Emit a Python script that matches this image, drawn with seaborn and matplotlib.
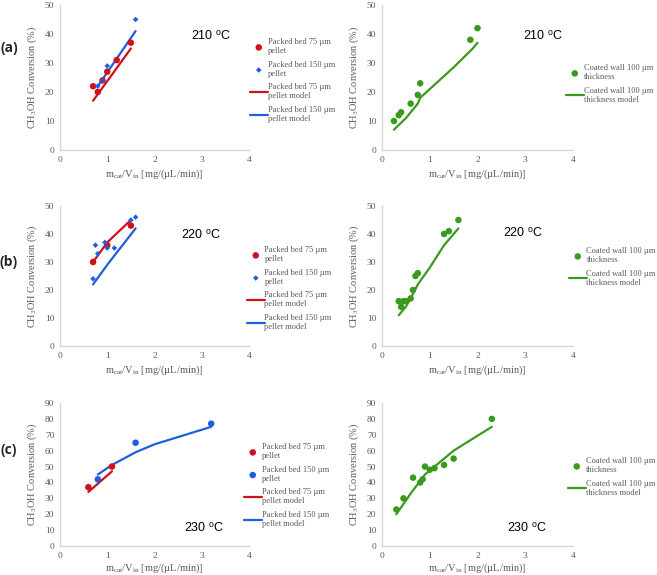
import numpy as np
import pandas as pd
import matplotlib
matplotlib.use("Agg")
import matplotlib.pyplot as plt
import seaborn as sns

sns.set_theme(style="white")
plt.rcParams['font.family'] = ['Liberation Serif', 'DejaVu Serif']
plt.rcParams['mathtext.fontset'] = 'custom'
plt.rcParams['mathtext.rm'] = 'Liberation Serif'
plt.rcParams['mathtext.it'] = 'Liberation Serif'

RED = '#d0101c'
BLUE = '#1f5fdc'
GREEN = '#3a9a1e'
GREY_TXT = '#595959'
SPINE = '#d0d8dc'

# ---- data (a) 210 C ----
a_p75_x = [0.7, 0.8, 0.9, 1.0, 1.2, 1.5]
a_p75_y = [22, 20, 24, 27, 31, 37]
a_p150_x = [0.8, 0.9, 1.0, 1.6]
a_p150_y = [22, 24, 29, 45]
a_m75_x = [0.7, 1.5]
a_m75_y = [17, 35]
a_m150_x = [0.8, 1.6]
a_m150_y = [22, 41]
a_cw_x = [0.25, 0.35, 0.4, 0.6, 0.75, 0.8, 1.85, 2.0]
a_cw_y = [10, 12, 13, 16, 19, 23, 38, 42]
a_cwm_x = [0.25, 0.5, 0.75, 0.8, 1.5, 1.9, 2.0]
a_cwm_y = [7, 11, 16, 18, 28.5, 35, 37]

# ---- data (b) 220 C ----
b_p75_x = [0.7, 1.0, 1.5]
b_p75_y = [30, 36, 43]
b_p150_x = [0.7, 0.75, 0.8, 0.95, 1.0, 1.15, 1.5, 1.6]
b_p150_y = [24, 36, 33, 37, 35, 35, 45, 46]
b_m75_x = [0.7, 1.0, 1.5]
b_m75_y = [30, 37, 45]
b_m150_x = [0.7, 1.0, 1.6]
b_m150_y = [22, 29, 42]
b_cw_x = [0.35, 0.4, 0.45, 0.5, 0.6, 0.65, 0.7, 0.75, 1.3, 1.4, 1.6]
b_cw_y = [16, 14, 16, 16, 17, 20, 25, 26, 40, 41, 45]
b_cwm_x = [0.35, 0.5, 0.6, 0.75, 1.0, 1.3, 1.6]
b_cwm_y = [11, 14, 17, 22, 28, 36, 42]

# ---- data (c) 230 C ----
c_p75_x = [0.6, 1.1]
c_p75_y = [37, 50]
c_p150_x = [0.8, 1.6, 3.2]
c_p150_y = [42, 65, 77]
c_m75_x = [0.6, 1.1]
c_m75_y = [34, 47]
c_m150_x = [0.8, 1.1, 1.6, 2.0, 3.2]
c_m150_y = [45, 51, 59, 64, 75]
c_cw_x = [0.3, 0.45, 0.65, 0.8, 0.85, 0.9, 1.0, 1.1, 1.3, 1.5, 2.3]
c_cw_y = [23, 30, 43, 40, 42, 50, 48, 49, 51, 55, 80]
c_cwm_x = [0.3, 0.6, 0.9, 1.1, 1.5, 2.3]
c_cwm_y = [20, 33, 45, 50, 60, 75]

temps = ['210', '220', '230']
panel_labels = ['(a)', '(b)', '(c)']
lab_p75 = 'Packed bed 75 µm\npellet'
lab_p150 = 'Packed bed 150 µm\npellet'
lab_m75 = 'Packed bed 75 µm\npellet model'
lab_m150 = 'Packed bed 150 µm\npellet model'
lab_cw = 'Coated wall 100 µm\nthickness'
lab_cwm = 'Coated wall 100 µm\nthickness model'

W, H = 657, 575
fig = plt.figure(figsize=(W / 100, H / 100), dpi=100)

def ax_px(x0, x1, y_top, y_bot):
    return fig.add_axes([x0 / W, 1 - y_bot / H, (x1 - x0) / W, (y_bot - y_top) / H])

FS = 6.8
LFS = 6.0

def style(ax, ymax, ystep, xpad=3):
    ax.set_xlim(0, 4)
    ax.set_ylim(0, ymax)
    ax.set_xticks(range(0, 5))
    ax.set_yticks(np.arange(0, ymax + 1, ystep))
    for s in ['top', 'right']:
        ax.spines[s].set_visible(False)
    for s in ['left', 'bottom']:
        ax.spines[s].set_color(SPINE)
        ax.spines[s].set_linewidth(1.0)
    ax.tick_params(axis='both', length=0, labelsize=FS, colors=GREY_TXT, pad=4)
    ax.set_xlabel('m$_{\\mathregular{cat}}$/V$_{\\mathregular{in}}$ [mg/(µL/min)]',
                  fontsize=7.5, color=GREY_TXT, labelpad=xpad)
    ax.set_ylabel('CH$_{\\mathregular{3}}$OH Conversion (%)', fontsize=7.5,
                  color=GREY_TXT, labelpad=4)

def packed(ax, px75, py75, px150, py150, mx75, my75, mx150, my150, m150, ms150):
    sns.scatterplot(x=px75, y=py75, ax=ax, color=RED, marker='o', s=22,
                    edgecolor='none', label=lab_p75, zorder=3)
    sns.scatterplot(x=px150, y=py150, ax=ax, color=BLUE, marker=m150, s=ms150,
                    edgecolor='none', label=lab_p150, zorder=3)
    sns.lineplot(x=mx75, y=my75, ax=ax, color=RED, lw=1.6, label=lab_m75,
                 sort=False, estimator=None)
    sns.lineplot(x=mx150, y=my150, ax=ax, color=BLUE, lw=1.6, label=lab_m150,
                 sort=False, estimator=None)

def coated(ax, x, y, mx, my):
    sns.scatterplot(x=x, y=y, ax=ax, color=GREEN, marker='o', s=22,
                    edgecolor='none', label=lab_cw, zorder=3)
    sns.lineplot(x=mx, y=my, ax=ax, color=GREEN, lw=1.6, label=lab_cwm,
                 sort=False, estimator=None)

def legend(ax, xpx, ypx):
    ax.legend(loc='upper left', bbox_to_anchor=(xpx / W, 1 - ypx / H),
              bbox_transform=fig.transFigure, frameon=False, fontsize=LFS,
              handlelength=2.1, handletextpad=0.0, labelspacing=0.65,
              borderaxespad=0, borderpad=0, labelcolor=GREY_TXT)

# row geometry: (y_top, y_bot)
rows = [(5, 150), (206, 346), (403, 546)]
ymaxes = [(50, 10), (50, 10), (90, 10)]

axes = []
for r in range(3):
    yt, yb = rows[r]
    axL = ax_px(60, 249, yt, yb)
    axR = ax_px(382, 573, yt, yb)
    axes.append((axL, axR))

# (a)
axL, axR = axes[0]
packed(axL, a_p75_x, a_p75_y, a_p150_x, a_p150_y, a_m75_x, a_m75_y, a_m150_x, a_m150_y, 'D', 8)
coated(axR, a_cw_x, a_cw_y, a_cwm_x, a_cwm_y)
# (b)
axL, axR = axes[1]
packed(axL, b_p75_x, b_p75_y, b_p150_x, b_p150_y, b_m75_x, b_m75_y, b_m150_x, b_m150_y, 'D', 8)
coated(axR, b_cw_x, b_cw_y, b_cwm_x, b_cwm_y)
# (c)
axL, axR = axes[2]
packed(axL, c_p75_x, c_p75_y, c_p150_x, c_p150_y, c_m75_x, c_m75_y, c_m150_x, c_m150_y, 'o', 22)
coated(axR, c_cw_x, c_cw_y, c_cwm_x, c_cwm_y)

for r in range(3):
    axL, axR = axes[r]
    ymax, ystep = ymaxes[r]
    xpad = 3 if r < 2 else 1.5
    style(axL, ymax, ystep, xpad)
    style(axR, ymax, ystep, xpad)

legend(axes[0][0], 250, 38)
legend(axes[0][1], 566, 64)
legend(axes[1][0], 247, 246)
legend(axes[1][1], 569, 247)
legend(axes[2][0], 244, 443)
legend(axes[2][1], 568, 457)

# temperature labels (pixel centres)
temp_pos = [[(211, 36), (543, 36)], [(201, 235), (523, 233)], [(204, 528), (527, 528)]]
for r in range(3):
    for (xp, yp) in temp_pos[r]:
        fig.text(xp / W, 1 - yp / H, temps[r] + ' $^{\\mathregular{o}}$C', ha='center',
                 va='center', fontsize=9, family=['Liberation Sans', 'DejaVu Sans'],
                 color='black')

panel_y = [48, 262, 450]
for r in range(3):
    fig.text(9 / W, 1 - panel_y[r] / H, panel_labels[r], ha='center', va='center',
             fontsize=10, fontweight='bold', family=['Open Sans', 'DejaVu Sans'])

fig.savefig('out.png', dpi=100, facecolor='white')
